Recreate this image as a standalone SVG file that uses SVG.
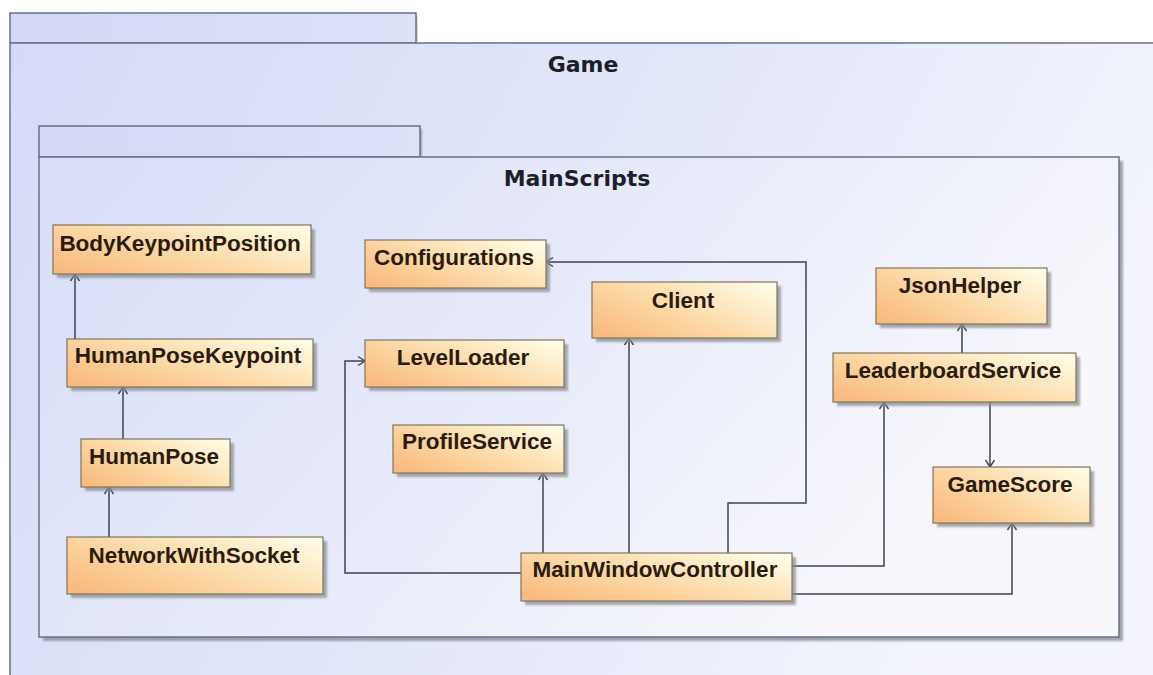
<svg xmlns="http://www.w3.org/2000/svg" width="1153" height="675" viewBox="0 0 1153 675">
<style>
.pkg{stroke:#6a7185;stroke-width:1.5}
.pkgtitle{font-family:"DejaVu Sans",sans-serif;font-weight:bold;font-size:22px;fill:#1c1f2a;text-anchor:middle}
.node{fill:url(#nodeGrad);stroke:#7e7562;stroke-width:1.2}
.shadow{fill:#8e8e8e;opacity:0.75;filter:url(#blur)}
.pshadow{fill:#8a8f9e;opacity:0.8;filter:url(#blur)}
.label{font-family:"Liberation Sans",Arial,sans-serif;font-weight:bold;font-size:22.5px;fill:#2a1c10;text-anchor:middle}
.conn{fill:none;stroke:#3d4352;stroke-width:1.5;marker-end:url(#arrow)}
</style>
<defs>
<linearGradient id="gameGrad" x1="0" y1="0" x2="1" y2="0.3">
<stop offset="0" stop-color="#d5dbf7"/>
<stop offset="0.6" stop-color="#e4e8fa"/>
<stop offset="1" stop-color="#f4f5fc"/>
</linearGradient>
<linearGradient id="msGrad" x1="0" y1="0" x2="1" y2="0.4">
<stop offset="0" stop-color="#d8ddf8"/>
<stop offset="0.55" stop-color="#e8ebfa"/>
<stop offset="1" stop-color="#f8f8fc"/>
</linearGradient>
<linearGradient id="tabGrad" x1="0" y1="0" x2="1" y2="0">
<stop offset="0" stop-color="#d3d9f6"/>
<stop offset="1" stop-color="#dde2f9"/>
</linearGradient>
<linearGradient id="nodeGrad" x1="0" y1="0.85" x2="1" y2="0.15">
<stop offset="0" stop-color="#f8bb7e"/>
<stop offset="0.45" stop-color="#fcd8a6"/>
<stop offset="1" stop-color="#fffbe2"/>
</linearGradient>
<filter id="blur" x="-10%" y="-10%" width="120%" height="120%">
<feGaussianBlur stdDeviation="1.2"/>
</filter>
<marker id="arrow" viewBox="-9 -7 11 14" markerWidth="11" markerHeight="14" refX="0" refY="0" orient="auto" markerUnits="userSpaceOnUse">
<path d="M-7,-4.5 L0,0 L-7,4.5" fill="none" stroke="#3d4352" stroke-width="1.4"/>
</marker>
</defs>

<rect x="0" y="0" width="1153" height="675" fill="#ffffff"/>

<g id="pkg-Game">
<rect class="pshadow" x="413" y="16" width="4" height="28"/>
<rect class="pkg" x="10" y="13" width="406" height="30" fill="url(#tabGrad)"/>
<rect class="pkg" x="10" y="43" width="1170" height="660" fill="url(#gameGrad)"/>
<text class="pkgtitle" x="583" y="72">Game</text>
</g>

<g id="pkg-MainScripts">
<rect class="pshadow" x="418" y="129" width="4" height="28"/>
<rect class="pshadow" x="43" y="161" width="1080" height="480"/>
<rect class="pkg" x="39" y="126" width="381" height="31" fill="url(#tabGrad)"/>
<rect class="pkg" x="39" y="157" width="1080" height="480" fill="url(#msGrad)"/>
<text class="pkgtitle" x="577" y="186">MainScripts</text>
</g>

<g id="connectors">
<path class="conn" d="M75,339 V274"/>
<path class="conn" d="M123,439 V387"/>
<path class="conn" d="M109,537 V487"/>
<path class="conn" d="M728,553 V503 H806 V262 H546"/>
<path class="conn" d="M629,553 V338"/>
<path class="conn" d="M543,553 V473"/>
<path class="conn" d="M521,573 H345 V361 H365"/>
<path class="conn" d="M792,566 H884 V402"/>
<path class="conn" d="M792,594 H1012 V523"/>
<path class="conn" d="M962,353 V324"/>
<path class="conn" d="M990,402 V467"/>
</g>

<g id="node-BodyKeypointPosition">
<rect class="shadow" x="57" y="229" width="258" height="49"/>
<rect class="node" x="53" y="225" width="258" height="49"/>
<text class="label" x="180" y="251">BodyKeypointPosition</text>
</g>
<g id="node-HumanPoseKeypoint">
<rect class="shadow" x="71" y="343" width="246" height="48"/>
<rect class="node" x="67" y="339" width="246" height="48"/>
<text class="label" x="188" y="363">HumanPoseKeypoint</text>
</g>
<g id="node-HumanPose">
<rect class="shadow" x="85" y="443" width="149" height="48"/>
<rect class="node" x="81" y="439" width="149" height="48"/>
<text class="label" x="154" y="464">HumanPose</text>
</g>
<g id="node-NetworkWithSocket">
<rect class="shadow" x="71" y="541" width="256" height="57"/>
<rect class="node" x="67" y="537" width="256" height="57"/>
<text class="label" x="194" y="563">NetworkWithSocket</text>
</g>
<g id="node-Configurations">
<rect class="shadow" x="369" y="244" width="181" height="48"/>
<rect class="node" x="365" y="240" width="181" height="48"/>
<text class="label" x="454" y="265">Configurations</text>
</g>
<g id="node-Client">
<rect class="shadow" x="596" y="286" width="185" height="56"/>
<rect class="node" x="592" y="282" width="185" height="56"/>
<text class="label" x="683" y="308">Client</text>
</g>
<g id="node-LevelLoader">
<rect class="shadow" x="369" y="344" width="199" height="47"/>
<rect class="node" x="365" y="340" width="199" height="47"/>
<text class="label" x="463" y="365">LevelLoader</text>
</g>
<g id="node-ProfileService">
<rect class="shadow" x="397" y="429" width="171" height="48"/>
<rect class="node" x="393" y="425" width="171" height="48"/>
<text class="label" x="477" y="449">ProfileService</text>
</g>
<g id="node-MainWindowController">
<rect class="shadow" x="525" y="557" width="271" height="48"/>
<rect class="node" x="521" y="553" width="271" height="48"/>
<text class="label" x="655" y="577">MainWindowController</text>
</g>
<g id="node-JsonHelper">
<rect class="shadow" x="880" y="272" width="171" height="56"/>
<rect class="node" x="876" y="268" width="171" height="56"/>
<text class="label" x="960" y="293">JsonHelper</text>
</g>
<g id="node-LeaderboardService">
<rect class="shadow" x="837" y="357" width="243" height="49"/>
<rect class="node" x="833" y="353" width="243" height="49"/>
<text class="label" x="953" y="378">LeaderboardService</text>
</g>
<g id="node-GameScore">
<rect class="shadow" x="937" y="471" width="157" height="56"/>
<rect class="node" x="933" y="467" width="157" height="56"/>
<text class="label" x="1010" y="492">GameScore</text>
</g>
</svg>
